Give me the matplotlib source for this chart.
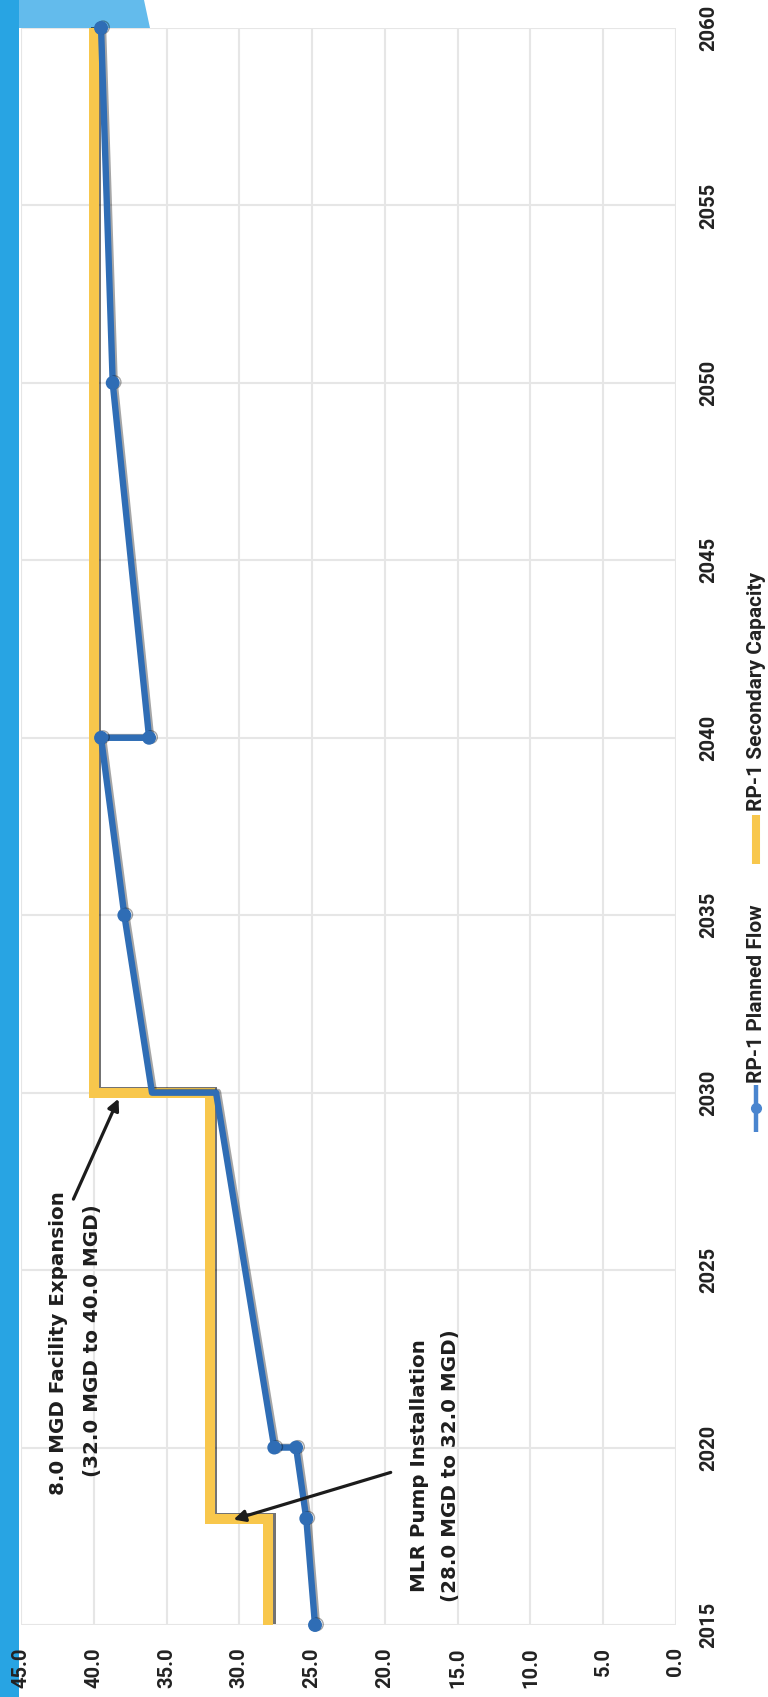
import matplotlib
matplotlib.use("Agg")
import matplotlib.pyplot as plt
from matplotlib.lines import Line2D
from matplotlib.patches import Polygon
import matplotlib.patheffects as pe

# ---------------- data ----------------
flow_years = [2015, 2018, 2020, 2020, 2030, 2030, 2035, 2040, 2040, 2050, 2060]
flow_mgd = [24.8, 25.4, 26.1, 27.6, 31.6, 36.0, 37.9, 39.5, 36.2, 38.7, 39.5]
flow_marker_idx = [0, 1, 2, 3, 6, 7, 8, 9, 10]

cap_years = [2015, 2018, 2018, 2030, 2030, 2060]
cap_mgd = [28.0, 28.0, 32.0, 32.0, 40.0, 40.0]

year_ticks = [2015, 2020, 2025, 2030, 2035, 2040, 2045, 2050, 2055, 2060]
value_ticks = [0, 5, 10, 15, 20, 25, 30, 35, 40, 45]

series_names = ["RP-1 Planned Flow", "RP-1 Secondary Capacity"]
ann1_lines = ["8.0 MGD Facility Expansion", "(32.0 MGD to 40.0 MGD)"]
ann2_lines = ["MLR Pump Installation", "(28.0 MGD to 32.0 MGD)"]

# ---------------- style ----------------
BLUE = "#2F6DB5"
LEG_BLUE = "#4A85CF"
YELLOW = "#F8C74C"
TXT = "#222222"
GRID = "#E6E6E6"

plt.rcParams["font.family"] = ["Roboto", "DejaVu Sans"]

W, H = 768, 1697
fig = plt.figure(figsize=(7.68, 16.97), dpi=100)
fig.patch.set_facecolor("white")


def fx(px):
    return px / W


def fy(py):
    return 1 - py / H


# scan artefacts: blue strip on the left and band at the top-left
fig.add_artist(Polygon([[0, 0], [fx(19), 0], [fx(19), 1], [0, 1]], closed=True,
                       transform=fig.transFigure, facecolor="#28A4E3",
                       edgecolor="none", zorder=-2))
fig.add_artist(Polygon([[fx(19), fy(28)], [fx(150), fy(28)], [fx(144), 1], [fx(19), 1]],
                       closed=True, transform=fig.transFigure, facecolor="#63BBEC",
                       edgecolor="none", zorder=-2))

X45, X0 = 21, 676
Y2015, Y2060 = 1625, 28
ax = fig.add_axes([fx(X45), fy(Y2015), fx(X0) - fx(X45), fy(Y2060) - fy(Y2015)])
ax.set_facecolor("none")

# capacity (yellow step)
ax.plot(cap_mgd, cap_years, color=YELLOW, lw=7.2, solid_joinstyle="miter",
        solid_capstyle="butt", clip_on=False, zorder=3,
        path_effects=[pe.SimpleLineShadow(offset=(1.6, 0.6), shadow_color="black",
                                          alpha=0.55, rho=1), pe.Normal()])
# planned flow (blue)
ax.plot(flow_mgd, flow_years, color=BLUE, lw=4.6, marker="o", ms=9,
        markevery=flow_marker_idx, markeredgecolor=BLUE, clip_on=False, zorder=4,
        path_effects=[pe.SimpleLineShadow(offset=(1.4, 0.5), shadow_color="black",
                                          alpha=0.35, rho=1), pe.Normal()])

ax.set_xlim(45, 0)
ax.set_ylim(2015, 2060)
ax.set_xticks(value_ticks)
ax.set_xticklabels([f"{v:.1f}" for v in value_ticks])
ax.set_yticks(year_ticks)
ax.set_yticklabels([str(y) for y in year_ticks])
ax.yaxis.tick_right()
ax.tick_params(axis="both", length=0, labelsize=14.5, colors=TXT)
ax.tick_params(axis="x", pad=16, labelrotation=90)
ax.tick_params(axis="y", pad=16.5, labelrotation=90)
for lab in ax.get_yticklabels():
    lab.set_va("center")
    lab.set_fontweight("bold")
for lab in ax.get_xticklabels():
    lab.set_fontweight("bold")

ax.grid(True, color=GRID, lw=1.5)
ax.set_axisbelow(True)
for s in ax.spines.values():
    s.set_visible(False)

# annotations
ann_kw = dict(rotation=90, ha="center", va="center", fontsize=14.3,
              fontweight="bold", color="#1E1E1E", family="DejaVu Sans", zorder=6)
ax.text(42.4, 2022.95, ann1_lines[0], **ann_kw)
ax.text(40.1, 2023.0, ann1_lines[1], **ann_kw)
ax.text(17.6, 2019.5, ann2_lines[0], **ann_kw)
ax.text(15.5, 2019.5, ann2_lines[1], **ann_kw)

arrow_kw = dict(arrowstyle="-|>", lw=2.3, color="#1C1C1C", mutation_scale=17,
                shrinkA=0, shrinkB=0)
ax.annotate("", xy=(38.3, 2029.83), xytext=(41.4, 2027.0),
            arrowprops=arrow_kw, annotation_clip=False, zorder=6)
ax.annotate("", xy=(30.4, 2017.97), xytext=(19.6, 2019.3),
            arrowprops=arrow_kw, annotation_clip=False, zorder=6)

# legend (rotated, drawn by hand)
LX = 756
fig.add_artist(Line2D([fx(LX), fx(LX)], [fy(815), fy(864)], color=YELLOW, lw=5.8,
                      solid_capstyle="butt", transform=fig.transFigure))
fig.text(fx(LX), fy(691.5), series_names[1], rotation=90, ha="center", va="center",
         fontsize=15, fontweight="bold", color=TXT)
fig.add_artist(Line2D([fx(LX), fx(LX)], [fy(1085), fy(1132)], color=LEG_BLUE, lw=3.2,
                      solid_capstyle="butt", transform=fig.transFigure))
fig.add_artist(Line2D([fx(LX)], [fy(1108)], marker="o", ms=7, color=LEG_BLUE,
                      transform=fig.transFigure))
fig.text(fx(LX), fy(993.5), series_names[0], rotation=90, ha="center", va="center",
         fontsize=15, fontweight="bold", color=TXT)

fig.savefig("out.png", dpi=100, facecolor="white")
